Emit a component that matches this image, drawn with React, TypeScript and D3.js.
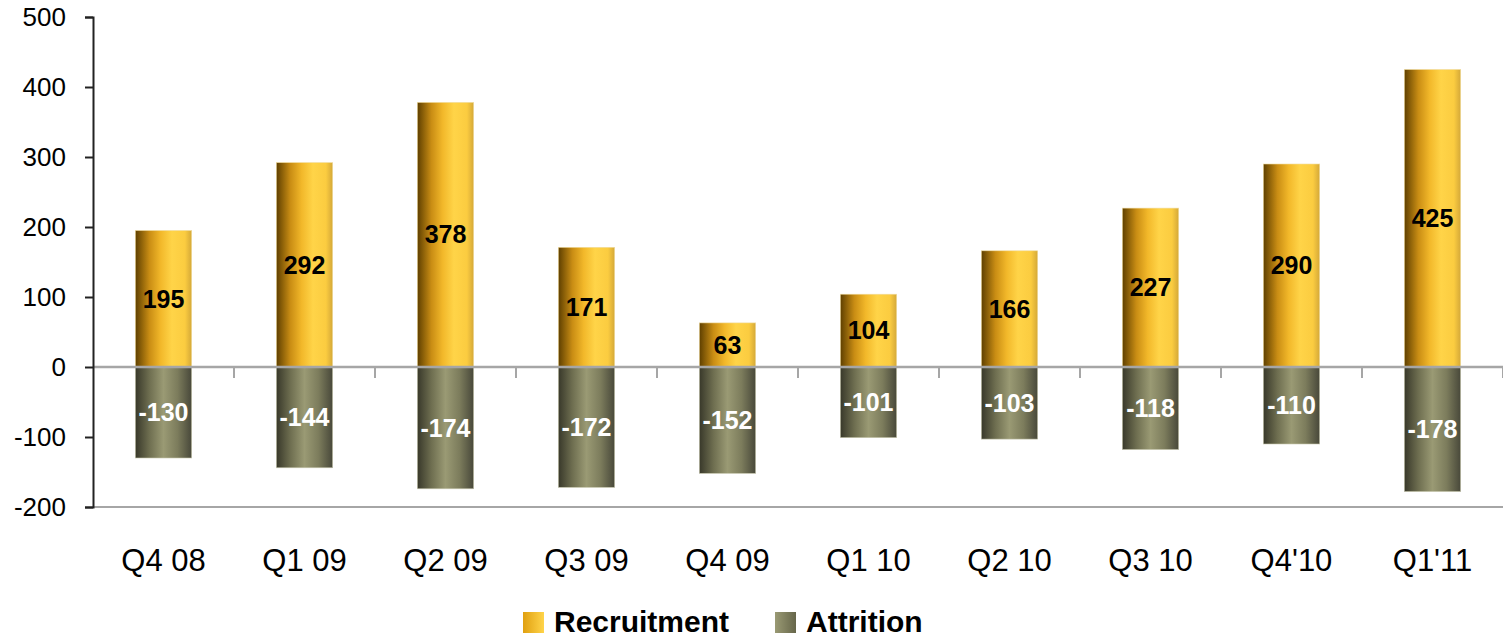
import React, { useEffect, useRef } from 'react';
import * as d3 from 'd3';

const quarters = ['Q4 08', 'Q1 09', 'Q2 09', 'Q3 09', 'Q4 09', 'Q1 10', 'Q2 10', 'Q3 10', "Q4'10", "Q1'11"];
const recruitment = [195, 292, 378, 171, 63, 104, 166, 227, 290, 425];
const attrition = [-130, -144, -174, -172, -152, -101, -103, -118, -110, -178];
const yTicks = [500, 400, 300, 200, 100, 0, -100, -200];

export default function App() {
  const svgRef = useRef<SVGSVGElement>(null);

  useEffect(() => {
    const width = 1503;
    const height = 638;
    const svg = d3.select(svgRef.current);
    svg.selectAll('*').remove();
    svg.attr('width', width).attr('height', height);

    const font = '"Liberation Sans", Arial, sans-serif';

    // gradients
    const defs = svg.append('defs');
    const gold = defs.append('linearGradient').attr('id', 'gold').attr('x1', '0').attr('x2', '1').attr('y1', '0').attr('y2', '0');
    [
      ['0%', '#5e3f00'],
      ['25%', '#c98d14'],
      ['45%', '#f2b82a'],
      ['65%', '#ffd448'],
      ['88%', '#fbcc40'],
      ['100%', '#d4a838'],
    ].forEach(([o, c]) => gold.append('stop').attr('offset', o).attr('stop-color', c));

    const olive = defs.append('linearGradient').attr('id', 'olive').attr('x1', '0').attr('x2', '1').attr('y1', '0').attr('y2', '0');
    [
      ['0%', '#38382a'],
      ['25%', '#6e6e50'],
      ['50%', '#9a9a74'],
      ['75%', '#7c7c5c'],
      ['100%', '#48483a'],
    ].forEach(([o, c]) => olive.append('stop').attr('offset', o).attr('stop-color', c));

    const goldLeg = defs.append('linearGradient').attr('id', 'goldLeg').attr('x1', '0').attr('x2', '1');
    goldLeg.append('stop').attr('offset', '0%').attr('stop-color', '#e0a010');
    goldLeg.append('stop').attr('offset', '100%').attr('stop-color', '#ffd44a');
    const oliveLeg = defs.append('linearGradient').attr('id', 'oliveLeg').attr('x1', '0').attr('x2', '1');
    oliveLeg.append('stop').attr('offset', '0%').attr('stop-color', '#9a9a74');
    oliveLeg.append('stop').attr('offset', '100%').attr('stop-color', '#66664a');

    const x = d3.scaleBand<string>()
      .domain(quarters)
      .range([93, 1503])
      .paddingInner(0.6)
      .paddingOuter(0.3);

    const y = d3.scaleLinear()
      .domain([-200, 500])
      .range([507, 17]);

    // bottom gray line at min value
    svg.append('line')
      .attr('x1', 93).attr('x2', width)
      .attr('y1', y(-200)).attr('y2', y(-200))
      .attr('stroke', '#a6a6a6').attr('stroke-width', 2);

    // bars
    svg.selectAll('.rec')
      .data(recruitment)
      .enter()
      .append('rect')
      .attr('x', (d, i) => x(quarters[i])!)
      .attr('width', x.bandwidth())
      .attr('y', d => y(d))
      .attr('height', d => y(0) - y(d))
      .attr('fill', 'url(#gold)')
      .attr('stroke', '#f0dca0')
      .attr('stroke-width', 0.6);

    svg.selectAll('.att')
      .data(attrition)
      .enter()
      .append('rect')
      .attr('x', (d, i) => x(quarters[i])!)
      .attr('width', x.bandwidth())
      .attr('y', y(0))
      .attr('height', d => y(d) - y(0))
      .attr('fill', 'url(#olive)')
      .attr('stroke', '#c8c8b0')
      .attr('stroke-width', 0.6);

    // zero line with ticks at category boundaries
    svg.append('line')
      .attr('x1', 93).attr('x2', width)
      .attr('y1', y(0)).attr('y2', y(0))
      .attr('stroke', '#a6a6a6').attr('stroke-width', 2.5);

    const step = x.step();
    svg.selectAll('.ctick')
      .data(quarters)
      .enter()
      .append('line')
      .attr('x1', d => x(d)! + x.bandwidth() + (step - x.bandwidth()) / 2)
      .attr('x2', d => x(d)! + x.bandwidth() + (step - x.bandwidth()) / 2)
      .attr('y1', y(0))
      .attr('y2', y(0) + 11)
      .attr('stroke', '#a6a6a6')
      .attr('stroke-width', 2);

    // y axis
    const yAxis = svg.append('g')
      .attr('transform', 'translate(93,0)')
      .call(d3.axisLeft(y).tickValues(yTicks).tickSize(8).tickPadding(19).tickFormat(d => String(d)));
    yAxis.select('.domain').attr('stroke', '#222').attr('stroke-width', 2);
    yAxis.selectAll('.tick line').attr('stroke', '#222').attr('stroke-width', 2);
    yAxis.selectAll('.tick text')
      .attr('font-family', font)
      .attr('font-size', 26)
      .attr('fill', '#000');

    // category labels
    svg.selectAll('.cat')
      .data(quarters)
      .enter()
      .append('text')
      .attr('x', d => x(d)! + x.bandwidth() / 2)
      .attr('y', 560)
      .attr('dy', '0.35em')
      .attr('text-anchor', 'middle')
      .attr('font-family', font)
      .attr('font-size', 31)
      .attr('fill', '#000')
      .text(d => d);

    // data labels
    svg.selectAll('.recLbl')
      .data(recruitment)
      .enter()
      .append('text')
      .attr('x', (d, i) => x(quarters[i])! + x.bandwidth() / 2)
      .attr('y', d => (y(d) + y(0)) / 2)
      .attr('dy', '0.35em')
      .attr('text-anchor', 'middle')
      .attr('font-family', font)
      .attr('font-weight', 'bold')
      .attr('font-size', 25)
      .attr('fill', '#000')
      .text(d => d);

    svg.selectAll('.attLbl')
      .data(attrition)
      .enter()
      .append('text')
      .attr('x', (d, i) => x(quarters[i])! + x.bandwidth() / 2)
      .attr('y', d => (y(d) + y(0)) / 2)
      .attr('dy', '0.35em')
      .attr('text-anchor', 'middle')
      .attr('font-family', font)
      .attr('font-weight', 'bold')
      .attr('font-size', 25)
      .attr('fill', '#fff')
      .text(d => d);

    // legend
    const legend = [
      { name: 'Recruitment', fill: 'url(#goldLeg)', x: 523 },
      { name: 'Attrition', fill: 'url(#oliveLeg)', x: 775 },
    ];
    const lg = svg.selectAll('.leg')
      .data(legend)
      .enter()
      .append('g')
      .attr('transform', d => `translate(${d.x},612)`);
    lg.append('rect')
      .attr('width', 21)
      .attr('height', 21)
      .attr('fill', d => d.fill);
    lg.append('text')
      .attr('x', 31)
      .attr('y', 9)
      .attr('dy', '0.36em')
      .attr('font-family', font)
      .attr('font-weight', 'bold')
      .attr('font-size', 30)
      .attr('fill', '#000')
      .text(d => d.name);
  }, []);

  return (
    <div style={{ position: 'absolute', left: 0, top: 0, background: '#fff' }}>
      <svg ref={svgRef} style={{ display: 'block' }}></svg>
    </div>
  );
}
